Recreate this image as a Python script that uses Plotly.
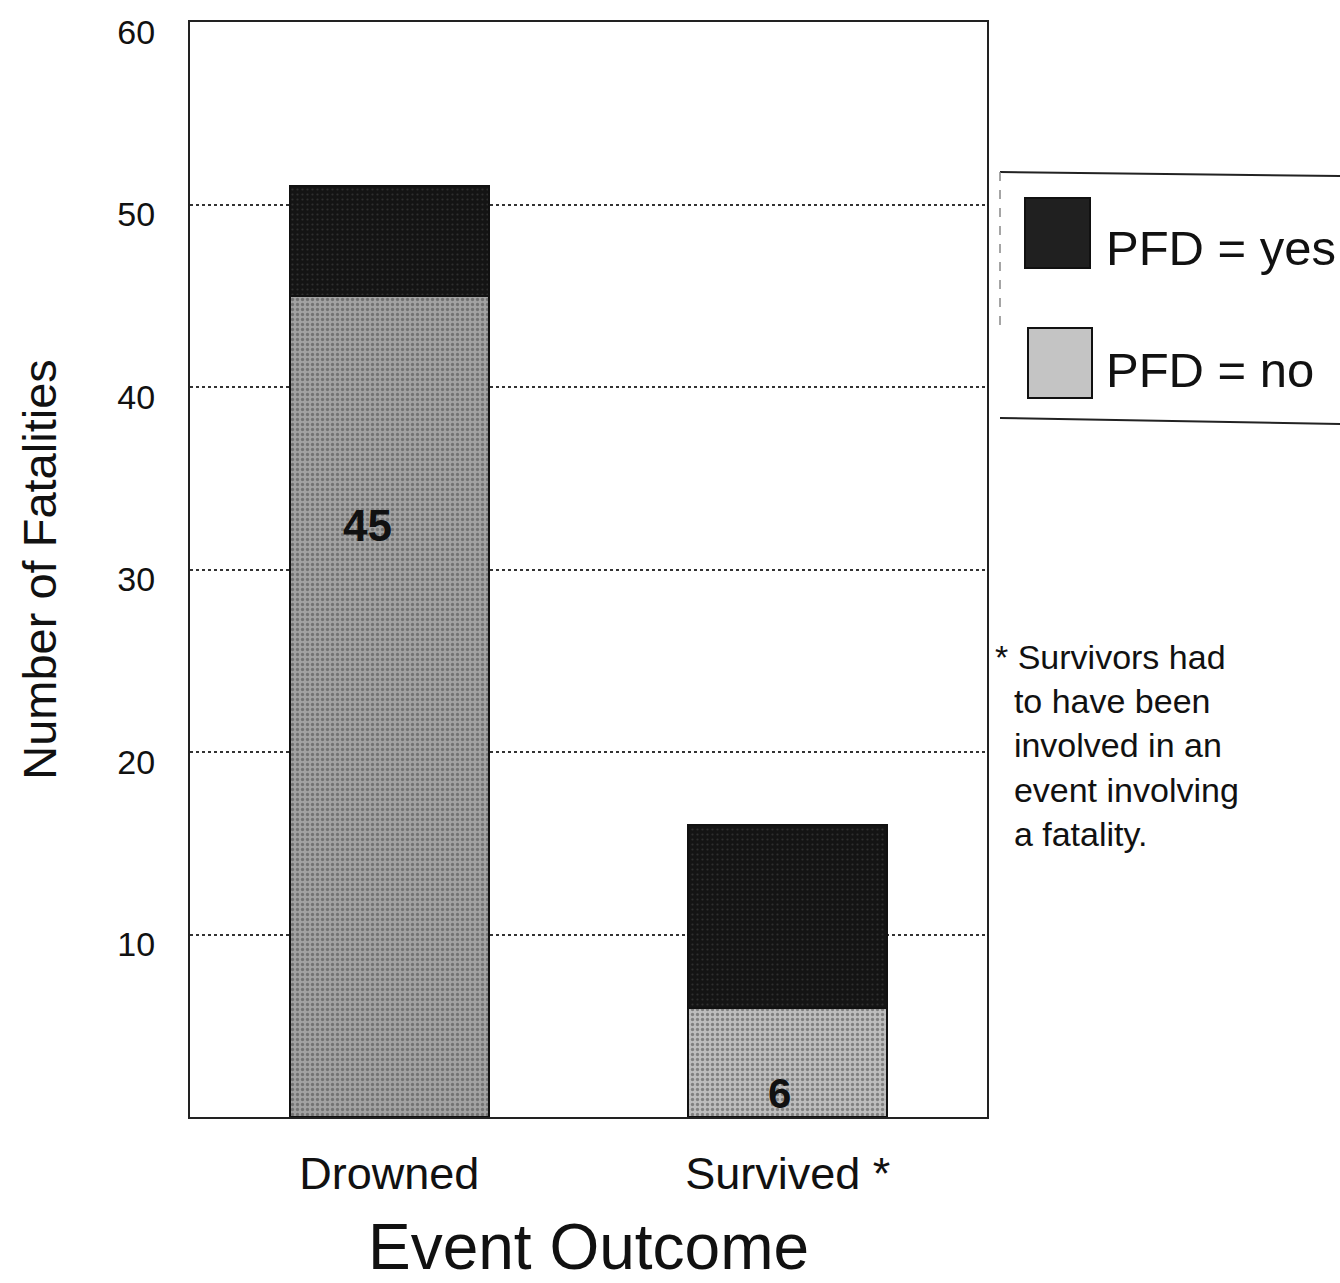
import plotly.graph_objects as go

categories = ["Drowned", "Survived *"]
pfd_no = [45, 6]
pfd_yes = [6, 10]
no_labels = ["45", "6"]
y_ticks = [10, 20, 30, 40, 50, 60]

W, H = 1340, 1283
L, R, T, B = 190, 353, 22, 166
PW, PH = W - L - R, H - T - B

def px(x):
    return (x - L) / PW

def py(y):
    return (H - B - y) / PH

FONT = "Liberation Sans, Arial, sans-serif"

fig = go.Figure()
fig.add_trace(go.Bar(
    x=categories, y=pfd_no, name="PFD = no",
    marker=dict(color=["#a2a2a2", "#bdbdbd"], line=dict(color="#111", width=2),
                pattern=dict(shape=".", fgcolor=["#555555", "#777777"], bgcolor=["#a8a8a8", "#c2c2c2"],
                             size=5, solidity=0.35)),
    width=0.5, showlegend=False,
))
fig.add_trace(go.Bar(
    x=categories, y=pfd_yes, name="PFD = yes",
    marker=dict(color="#161616", line=dict(color="#111", width=2),
                pattern=dict(shape=".", fgcolor="#4a4a4a", bgcolor="#141414", size=5, solidity=0.15)),
    width=0.5, showlegend=False,
))

# value labels inside the PFD = no segments
fig.add_annotation(x=categories[0], y=pfd_no[0] * 0.72, text="<b>" + no_labels[0] + "</b>",
                   showarrow=False, font=dict(family=FONT, size=44, color="#111"), xshift=-22)
fig.add_annotation(x=categories[1], y=1.3, text="<b>" + no_labels[1] + "</b>",
                   showarrow=False, font=dict(family=FONT, size=42, color="#111"), xshift=-8)

# manual legend
shapes = []
shapes.append(dict(type="line", xref="paper", yref="paper", x0=px(1000), x1=px(1340), y0=py(172), y1=py(176), line=dict(color="#222", width=2)))
shapes.append(dict(type="line", xref="paper", yref="paper", x0=px(1000), x1=px(1340), y0=py(418), y1=py(424), line=dict(color="#222", width=2)))
shapes.append(dict(type="line", xref="paper", yref="paper", x0=px(1000), x1=px(1000), y0=py(172), y1=py(330), line=dict(color="#888", width=1.5, dash="dash")))
shapes.append(dict(type="rect", xref="paper", yref="paper", x0=px(1025), x1=px(1090), y0=py(268), y1=py(198),
                   fillcolor="#202020", line=dict(color="#111", width=2)))
shapes.append(dict(type="rect", xref="paper", yref="paper", x0=px(1028), x1=px(1092), y0=py(398), y1=py(328),
                   fillcolor="#c4c4c4", line=dict(color="#111", width=2)))
fig.update_layout(shapes=shapes)
fig.add_annotation(xref="paper", yref="paper", x=px(1104), y=py(248), text="PFD = yes", showarrow=False,
                   xanchor="left", yanchor="middle", font=dict(family=FONT, size=49, color="#111"))
fig.add_annotation(xref="paper", yref="paper", x=px(1104), y=py(370), text="PFD = no", showarrow=False,
                   xanchor="left", yanchor="middle", font=dict(family=FONT, size=49, color="#111"))

# footnote
fig.add_annotation(xref="paper", yref="paper", x=px(993), y=py(636), xanchor="left", yanchor="top", align="left",
                   text="* Survivors had<br>  to have been<br>  involved in an<br>  event involving<br>  a fatality.",
                   showarrow=False, font=dict(family="Liberation Sans Narrow, Liberation Sans, Arial, sans-serif", size=34, color="#111"))

fig.update_layout(
    width=W, height=H,
    margin=dict(l=L, r=R, t=T, b=B, autoexpand=False),
    barmode="stack", bargap=0.5,
    plot_bgcolor="white", paper_bgcolor="white",
    font=dict(family=FONT, color="#111"),
    xaxis=dict(showline=True, linecolor="#222", linewidth=2, mirror=True,
               tickfont=dict(size=45, family=FONT), ticks="", ticklabelstandoff=16,
               title=dict(text="Event Outcome", font=dict(size=64, family=FONT), standoff=28)),
    yaxis=dict(range=[0, 60], tickvals=y_ticks, showline=True, linecolor="#222", linewidth=2, mirror=True,
               showgrid=True, gridcolor="#333", gridwidth=2, griddash="dot", zeroline=False,
               tickfont=dict(size=34, family=FONT), ticks="", ticklabelstandoff=26, ticklabelshift=10,
               title=dict(text="Number of Fatalities", font=dict(size=47, family=FONT), standoff=46)),
)

fig.write_html("out.html")
